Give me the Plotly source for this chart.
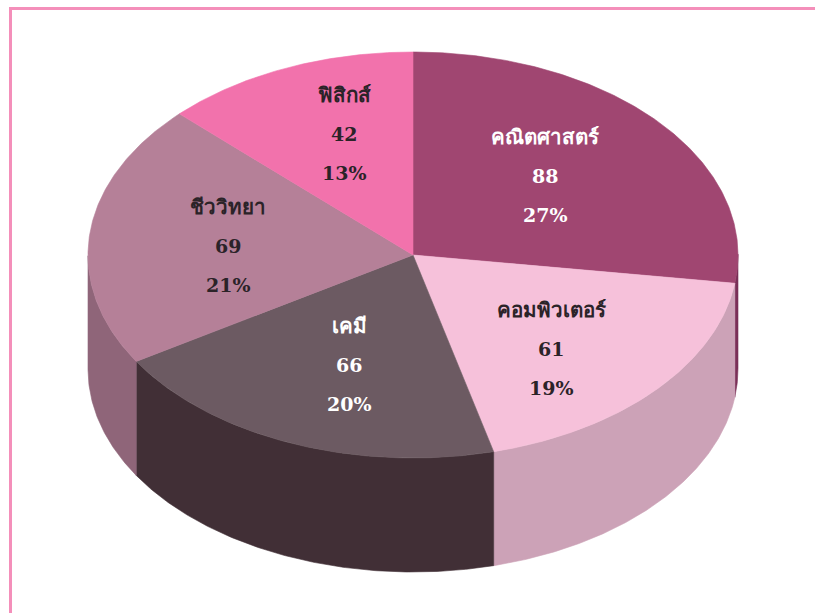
import numpy as np
import plotly.graph_objects as go

# Enrolment by subject
subjects = ["คณิตศาสตร์", "คอมพิวเตอร์", "เคมี", "ชีววิทยา", "ฟิสิกส์"]
counts = [88, 61, 66, 69, 42]
top_colors = ["#A04671", "#F6C1DA", "#6C5A62", "#B58098", "#F272AC"]
side_colors = ["#7A3058", "#CCA2B7", "#412F36", "#8F6579", "#C05A88"]
text_colors = ["#FFFFFF", "#2B2328", "#FFFFFF", "#2B2328", "#2B2328"]

# Centre of each slice's label block, and the spacing between its three lines
label_centres = [(545, 176), (551, 349), (349, 365), (228, 246), (344, 134)]
line_gap = 39

# Pie projected as an ellipse with a vertical extrusion
CX, CY, RX, RY, DEPTH = 413, 255, 325, 203, 114
SKEW = 1.1  # degrees of angular drift from the tilted viewpoint
FONT = "DejaVu Serif, Noto Sans CJK SC, serif"


def rim(a0, a1, drop=0):
    t = np.linspace(a0, a1, max(int(abs(a1 - a0) * 2), 2))
    r = np.radians(t + SKEW * np.sin(np.radians(t / 2)))
    return CX + RX * np.sin(r), CY - RY * np.cos(r) + drop


def patch(x, y, color):
    return go.Scatter(x=x, y=y, mode="lines", fill="toself", fillcolor=color,
                      line=dict(color=color, width=0.6), hoverinfo="skip", showlegend=False)


total = sum(counts)
edges = np.concatenate([[0], np.cumsum(counts)]) / total * 360
fig = go.Figure()

# Side walls: only the arc between 90 and 270 degrees faces the viewer
for i in range(len(counts)):
    a0, a1 = max(edges[i], 89), min(edges[i + 1], 269)
    if a1 <= a0:
        continue
    xt, yt = rim(a0, a1)
    xb, yb = rim(a0, a1, DEPTH)
    fig.add_trace(patch(np.r_[xt, xb[::-1], xt[0]], np.r_[yt, yb[::-1], yt[0]], side_colors[i]))

# Top faces
for i in range(len(counts)):
    xt, yt = rim(edges[i], edges[i + 1])
    fig.add_trace(patch(np.r_[CX, xt, CX], np.r_[CY, yt, CY], top_colors[i]))

# Label blocks: name, count, share
for i, (name, n) in enumerate(zip(subjects, counts)):
    lx, ly = label_centres[i]
    lines = [name, str(n), f"{n / total * 100:.0f}%"]
    for k, line in enumerate(lines):
        size = 20.5 if k == 0 else 19
        fig.add_annotation(x=lx, y=ly + (k - 1) * line_gap, text=f"<b>{line}</b>", showarrow=False,
                           font=dict(family=FONT, size=size, color=text_colors[i]))

fig.update_layout(
    width=815, height=613, margin=dict(l=0, r=0, t=0, b=0),
    paper_bgcolor="white", plot_bgcolor="white", showlegend=False,
    xaxis=dict(range=[0, 815], visible=False, fixedrange=True),
    yaxis=dict(range=[613, 0], visible=False, fixedrange=True),
    # Page frame, open towards the right and bottom edges
    shapes=[dict(type="path", path="M 10.5 620 L 10.5 8.5 L 820 8.5",
                 line=dict(color="#F48FBA", width=3))],
)
fig.write_html("out.html", config=dict(displayModeBar=False))
